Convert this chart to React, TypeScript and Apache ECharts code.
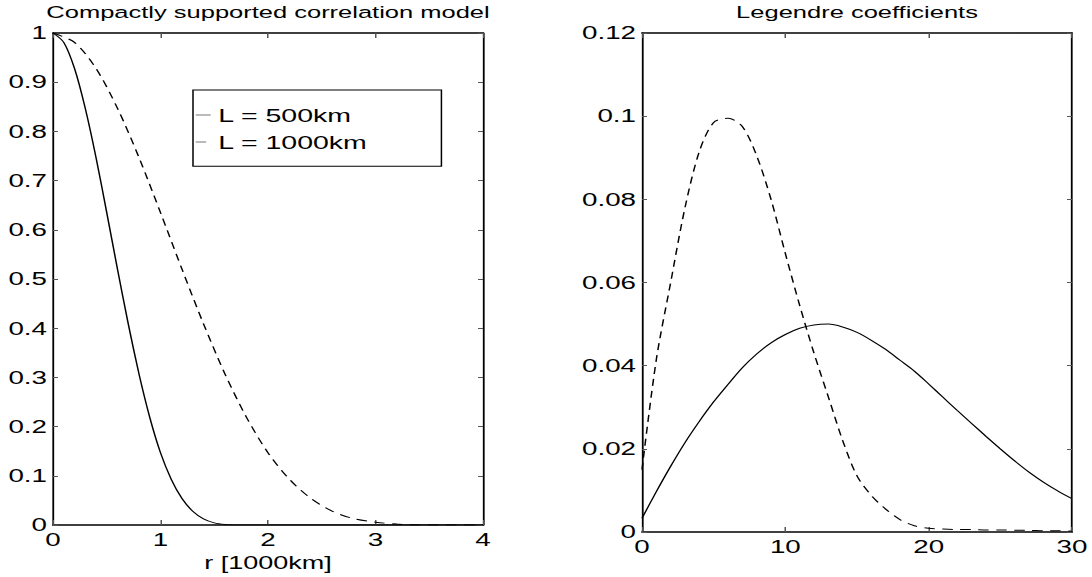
import React, { useEffect, useRef } from "react";
import * as echarts from "echarts";

// Reference figure is horizontally stretched; render narrower and stretch with CSS.
const STRETCH = 1.5;
const PAGE_W = 1092;
const PAGE_H = 577;
const FONT = "Liberation Sans";

// ---- Left panel: compactly supported correlation model ----
const titleLeft = "Compactly supported correlation model";
const xNameLeft = "r [1000km]";
const rSolid = [0, 0.1, 0.2, 0.3, 0.4, 0.5, 0.6, 0.7, 0.8, 0.9, 1.0, 1.1, 1.2, 1.3, 1.4, 1.5, 1.6, 1.7, 1.8, 4.0];
const corr500 = [1, 0.981, 0.928, 0.847, 0.747, 0.635, 0.52, 0.409, 0.307, 0.219, 0.147, 0.093, 0.054, 0.028, 0.0125, 0.0045, 0.0012, 0.0002, 0, 0];
const rDashed = [0, 0.2, 0.4, 0.6, 0.8, 1.0, 1.2, 1.4, 1.6, 1.8, 2.0, 2.2, 2.4, 2.6, 2.8, 3.0, 3.2, 3.4, 3.6, 4.0];
const corr1000 = [1, 0.981, 0.928, 0.847, 0.747, 0.635, 0.52, 0.409, 0.307, 0.219, 0.147, 0.093, 0.054, 0.028, 0.013, 0.006, 0.002, 0.0003, 0, 0];
const legendNames = ["L = 500km", "L = 1000km"];

// ---- Right panel: Legendre coefficients ----
const titleRight = "Legendre coefficients";
const degree = [0, 1, 2, 3, 4, 5, 6, 7, 8, 9, 10, 11, 12, 13, 14, 15, 16, 17, 18, 19, 20, 21, 22, 23, 24, 25, 26, 27, 28, 29, 30];
const coef500 = [0.0033, 0.0097, 0.0158, 0.0215, 0.0266, 0.0313, 0.0355, 0.0395, 0.0428, 0.0455, 0.0475, 0.049, 0.0498, 0.05, 0.0493, 0.048, 0.0461, 0.0439, 0.0413, 0.0387, 0.0356, 0.0324, 0.0292, 0.0261, 0.023, 0.02, 0.0171, 0.0144, 0.012, 0.0099, 0.008];
const coef1000 = [0.015, 0.0415, 0.06, 0.078, 0.0915, 0.0985, 0.0995, 0.0975, 0.0905, 0.08, 0.067, 0.0545, 0.043, 0.0325, 0.022, 0.0135, 0.0088, 0.0055, 0.003, 0.0015, 0.0009, 0.0007, 0.0006, 0.0006, 0.0005, 0.0005, 0.0004, 0.0004, 0.0003, 0.0003, 0.0002];

const zip = (xs: number[], ys: number[]) => xs.map((x, i) => [x, ys[i]]);

const DASH = [7, 5];

export default function App() {
  const ref = useRef<HTMLDivElement>(null);

  useEffect(() => {
    if (!ref.current) return;
    const W = PAGE_W / STRETCH;
    const chart = echarts.init(ref.current, undefined, { renderer: "svg", width: W, height: PAGE_H });

    const gTop = 33;
    const gH = 499;
    const g0Left = 53 / STRETCH;
    const g1Left = 642 / STRETCH;
    const gW = 430 / STRETCH;

    const labelStyle = { color: "#000", fontSize: 18.5, fontFamily: FONT };

    const xAxis = (grid: number, pos: "bottom" | "top", min: number, max: number, interval: number, extra: any = {}) => ({
      type: "value",
      gridIndex: grid,
      position: pos,
      min,
      max,
      interval,
      splitLine: { show: false },
      axisLine: { show: true, onZero: false, lineStyle: { color: "#000", width: 1.5 } },
      axisTick: { show: true, inside: true, length: 5, lineStyle: { color: "#555", width: 1 } },
      axisLabel: pos === "bottom" ? { ...labelStyle, margin: 5 } : { show: false },
      ...extra,
    });
    const yAxis = (grid: number, pos: "left" | "right", min: number, max: number, interval: number) => ({
      type: "value",
      gridIndex: grid,
      position: pos,
      min,
      max,
      interval,
      splitLine: { show: false },
      axisLine: { show: true, onZero: false, lineStyle: { color: "#000", width: 1.2 } },
      axisTick: { show: true, inside: true, length: 5 / STRETCH, lineStyle: { color: "#555", width: 1 } },
      axisLabel: pos === "left" ? { ...labelStyle, margin: 4 } : { show: false },
    });

    const titleStyle = { fontSize: 17, fontWeight: "normal", color: "#000", fontFamily: FONT };

    chart.setOption({
      animation: false,
      backgroundColor: "#fff",
      textStyle: { fontFamily: FONT },
      title: [
        { text: titleLeft, left: g0Left + gW / 2, textAlign: "center", top: 4, padding: 0, textStyle: titleStyle },
        { text: titleRight, left: g1Left + gW / 2, textAlign: "center", top: 4, padding: 0, textStyle: titleStyle },
      ],
      legend: {
        data: legendNames,
        orient: "vertical",
        left: 193 / STRETCH,
        top: 90,
        padding: [15.5, 49, 14.8, 1.3],
        itemWidth: 10,
        itemHeight: 6,
        itemGap: 8,
        backgroundColor: "#fff",
        borderColor: "#000",
        borderWidth: 1,
        borderRadius: 0,
        itemStyle: { opacity: 0 },
        lineStyle: { color: "#777", width: 1 },
        textStyle: { fontSize: 19, color: "#000", fontFamily: FONT, lineHeight: 19 },
        selectedMode: false,
      },
      grid: [
        { left: g0Left, top: gTop, width: gW, height: gH },
        { left: g1Left, top: gTop, width: gW, height: gH },
      ],
      xAxis: [
        xAxis(0, "bottom", 0, 4, 1, {
          name: xNameLeft,
          nameLocation: "middle",
          nameGap: 25,
          nameTextStyle: { color: "#000", fontSize: 18, fontFamily: FONT },
        }),
        xAxis(0, "top", 0, 4, 1),
        xAxis(1, "bottom", 0, 30, 10),
        xAxis(1, "top", 0, 30, 10),
      ],
      yAxis: [
        yAxis(0, "left", 0, 1, 0.1),
        yAxis(0, "right", 0, 1, 0.1),
        yAxis(1, "left", 0, 0.12, 0.02),
        yAxis(1, "right", 0, 0.12, 0.02),
      ],
      series: [
        {
          name: legendNames[0],
          type: "line",
          xAxisIndex: 0,
          yAxisIndex: 0,
          data: zip(rSolid, corr500),
          symbol: "none",
          smooth: 0.3,
          lineStyle: { color: "#000", width: 1, type: "solid" },
          itemStyle: { color: "#000" },
        },
        {
          name: legendNames[1],
          type: "line",
          xAxisIndex: 0,
          yAxisIndex: 0,
          data: zip(rDashed, corr1000),
          symbol: "none",
          smooth: 0.3,
          lineStyle: { color: "#000", width: 1, type: DASH },
          itemStyle: { color: "#000" },
        },
        {
          name: "Legendre 500km",
          type: "line",
          xAxisIndex: 2,
          yAxisIndex: 2,
          data: zip(degree, coef500),
          symbol: "none",
          smooth: 0.3,
          lineStyle: { color: "#000", width: 1, type: "solid" },
        },
        {
          name: "Legendre 1000km",
          type: "line",
          xAxisIndex: 2,
          yAxisIndex: 2,
          data: zip(degree, coef1000),
          symbol: "none",
          smooth: 0.3,
          lineStyle: { color: "#000", width: 1, type: DASH },
        },
      ],
    });

    return () => chart.dispose();
  }, []);

  return (
    <div
      style={{
        position: "absolute",
        left: 0,
        top: 0,
        width: PAGE_W,
        height: PAGE_H,
        overflow: "hidden",
        background: "#fff",
      }}
    >
      <div
        ref={ref}
        style={{
          width: PAGE_W / STRETCH,
          height: PAGE_H,
          transform: `scaleX(${STRETCH})`,
          transformOrigin: "0 0",
        }}
      />
    </div>
  );
}
